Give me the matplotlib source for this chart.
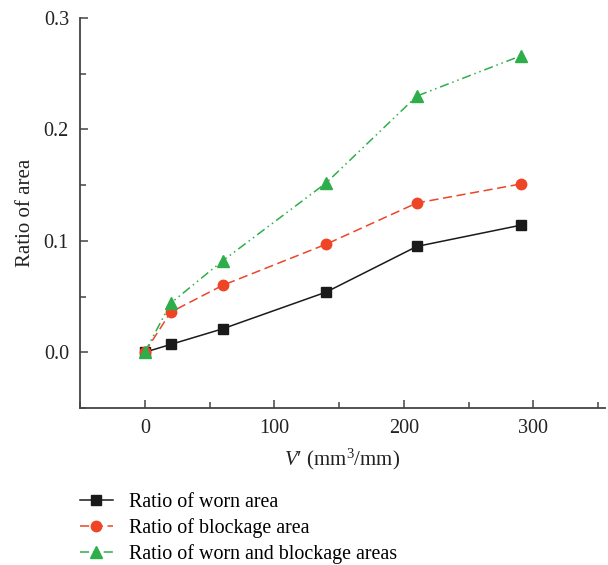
import matplotlib
matplotlib.use("Agg")
import matplotlib.pyplot as plt
from matplotlib.ticker import MultipleLocator

plt.rcParams['font.family'] = ['Liberation Serif', 'DejaVu Serif']
plt.rcParams['mathtext.fontset'] = 'custom'
plt.rcParams['mathtext.rm'] = 'Liberation Serif'
plt.rcParams['mathtext.it'] = 'Liberation Serif:italic'

x = [0, 20, 60, 140, 210, 290]
worn = [0.0, 0.007, 0.021, 0.054, 0.095, 0.114]
blockage = [0.0, 0.036, 0.060, 0.097, 0.134, 0.151]
both = [0.0, 0.044, 0.082, 0.152, 0.230, 0.266]
labels = ["Ratio of worn area", "Ratio of blockage area", "Ratio of worn and blockage areas"]

fig = plt.figure(figsize=(6.08, 5.65), dpi=100)
ax = fig.add_axes([0.1316, 0.278, 0.863, 0.69])

l1, = ax.plot(x, worn, color='#1a1a1a', ls='-', lw=1.1, marker='s', ms=6.5, label=labels[0])
l2, = ax.plot(x, blockage, color='#EE4526', ls=(0, (6, 3)), lw=1.1, marker='o', ms=7.5, label=labels[1])
l3, = ax.plot(x, both, color='#2EAE4A', ls=(0, (6, 2.5, 1, 2.5, 1, 2.5)), lw=1.1, marker='^', ms=8, label=labels[2])

ax.set_xlim(-50, 355)
ax.set_ylim(-0.05, 0.3)
ax.xaxis.set_minor_locator(MultipleLocator(50))
ax.yaxis.set_minor_locator(MultipleLocator(0.05))
ax.set_xticks([0, 100, 200, 300])
ax.set_xticklabels(['0', '100', '200', '300'])
ax.set_yticks([0.0, 0.1, 0.2, 0.3])
ax.set_yticklabels(['0.0', '0.1', '0.2', '0.3'])
for s in ['top', 'right']:
    ax.spines[s].set_visible(False)
for s in ['left', 'bottom']:
    ax.spines[s].set_color('#444444')
    ax.spines[s].set_linewidth(1.3)
ax.tick_params(which='both', direction='in', colors='#444444', labelcolor='#222222', labelsize=14.5)
ax.tick_params(which='major', length=6, width=1.1, pad=8)
ax.tick_params(which='minor', length=4, width=1.1)

ax.set_xlabel("$\\mathit{V}$\u2032 (mm$^3$/mm)", fontsize=15, color='#222222', labelpad=6)
ax.set_ylabel("Ratio of area", fontsize=15, color='#222222', labelpad=6)

fig.legend(handles=[l1, l2, l3], loc='upper left', bbox_to_anchor=(0.118, 0.141),
           frameon=False, fontsize=14.4, handlelength=1.65, handletextpad=0.8,
           labelspacing=0.3, borderaxespad=0)

fig.savefig("out.png", dpi=100)
